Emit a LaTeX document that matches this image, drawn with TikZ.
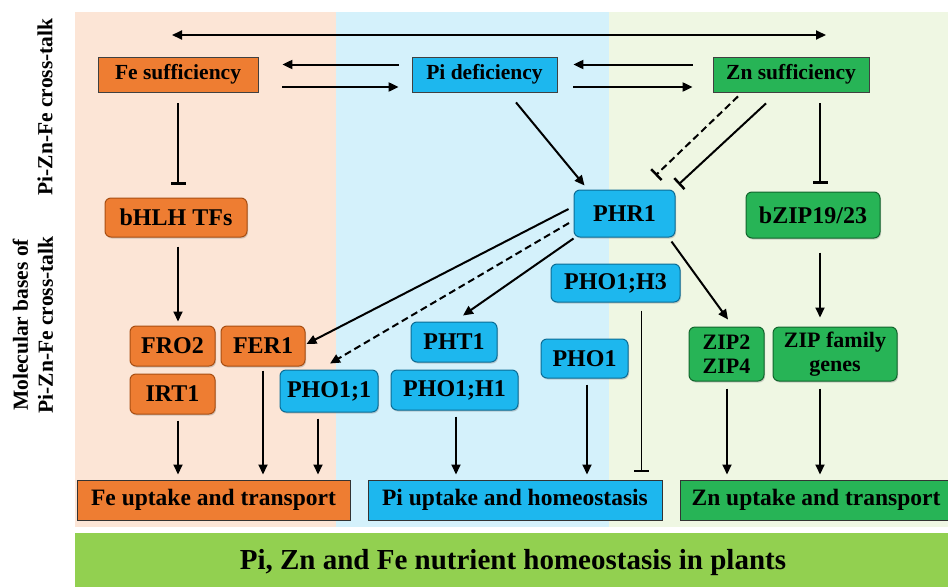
\documentclass[tikz,border=0pt]{standalone}
\usepackage{fontspec}
\setmainfont{Liberation Serif}
\usetikzlibrary{arrows.meta}
\usetikzlibrary{shadows}
\definecolor{fepanel}{HTML}{FCE5D6}
\definecolor{pipanel}{HTML}{D4F1FB}
\definecolor{znpanel}{HTML}{EFF7E3}
\definecolor{feorange}{HTML}{EE7D32}
\definecolor{fedark}{HTML}{A84E12}
\definecolor{piblue}{HTML}{1DB7EE}
\definecolor{pidark}{HTML}{0B6C95}
\definecolor{zngreen}{HTML}{27B456}
\definecolor{zndark}{HTML}{11652C}
\definecolor{plantgreen}{HTML}{92D050}
\newcommand{\boxfont}{\bfseries\fontsize{24}{24}\selectfont}
\tikzstyle{status}=[draw=black!75, line width=0.8pt, inner sep=0, minimum height=35pt,
                    font=\bfseries\fontsize{21.5}{22}\selectfont]
\tikzstyle{gene}=[rounded corners=6pt, line width=1pt, inner sep=0, minimum height=40pt, align=center,
                  font=\boxfont, drop shadow={shadow xshift=1pt, shadow yshift=-1.5pt, opacity=0.35}]
\tikzstyle{fegene}=[gene, fill=feorange, draw=fedark]
\tikzstyle{pigene}=[gene, fill=piblue, draw=pidark]
\tikzstyle{zngene}=[gene, fill=zngreen, draw=zndark, font=\bfseries\fontsize{22}{24}\selectfont]
\tikzstyle{outcome}=[draw=black!80, line width=1pt, inner sep=0, minimum height=40pt,
                     font=\bfseries\fontsize{23.5}{24}\selectfont]
\tikzstyle{sidelabel}=[rotate=90, align=center, font=\bfseries\fontsize{21.5}{25}\selectfont]
\tikzstyle{arr}=[line width=2pt, -{Triangle[length=10pt, width=9pt]}]
\tikzstyle{block}=[line width=2pt, -{Bar[width=15pt, line width=2.5pt]}]
\tikzstyle{thinblock}=[line width=1pt, -{Bar[width=15pt, line width=1.2pt]}]
\begin{document}
\begin{tikzpicture}[x=1pt, y=-1pt]
        \useasboundingbox (0, 0) rectangle (948, 587);
        % panels
        \fill[fepanel] (75, 12) rectangle (336, 527);
        \fill[pipanel] (336, 12) rectangle (609, 527);
        \fill[znpanel] (609, 12) rectangle (948, 527);
        \fill[plantgreen] (75, 533) rectangle (948, 587);
        \node[font=\bfseries\fontsize{29}{30}\selectfont] (title) at (513, 563) {Pi, Zn and Fe nutrient homeostasis in plants};
        \node[sidelabel] (crosslabel) at (45, 107) {Pi-Zn-Fe cross-talk};
        \node[sidelabel] (baselabel) at (33, 325) {Molecular bases of\\Pi-Zn-Fe cross-talk};
        % status boxes
        \node[status, fill=feorange, minimum width=160pt] (fesuf) at (178, 74.5) {Fe sufficiency};
        \node[status, fill=piblue, minimum width=145pt] (pidef) at (484.5, 74.5) {Pi deficiency};
        \node[status, fill=zngreen, minimum width=156pt] (znsuf) at (791, 74.5) {Zn sufficiency};
        % genes
        \node[fegene, minimum width=142pt, minimum height=39pt] (bhlh) at (176, 217.5) {bHLH TFs};
        \node[fegene, minimum width=85pt] (fro2) at (172.5, 346) {FRO2};
        \node[fegene, minimum width=84pt] (fer1) at (263, 346) {FER1};
        \node[fegene, minimum width=85pt] (irt1) at (172.5, 394) {IRT1};
        \node[pigene, minimum width=98pt, minimum height=42pt] (pho11) at (329, 391) {PHO1;1};
        \node[pigene, minimum width=101pt, minimum height=47pt] (phr1) at (624.5, 213.5) {PHR1};
        \node[pigene, minimum width=129pt, minimum height=38pt] (pho1h3) at (615.5, 283) {PHO1;H3};
        \node[pigene, minimum width=86pt] (pht1) at (454, 342) {PHT1};
        \node[pigene, minimum width=127pt] (pho1h1) at (454.5, 390) {PHO1;H1};
        \node[pigene, minimum width=87pt, minimum height=39pt] (pho1) at (584.5, 358.5) {PHO1};
        \node[zngene, minimum width=134pt, minimum height=46pt, font=\boxfont] (bzip) at (813, 215) {bZIP19/23};
        \node[zngene, minimum width=75pt, minimum height=54pt] (zip24) at (726.5, 354) {ZIP2\\ZIP4};
        \node[zngene, minimum width=124pt, minimum height=54pt] (zipfam) at (835, 354) {ZIP family\\genes};
        % outcomes
        \node[outcome, fill=feorange, minimum width=273pt] (feup) at (213.5, 500) {Fe uptake and transport};
        \node[outcome, fill=piblue, minimum width=294pt] (piup) at (515, 500) {Pi uptake and homeostasis};
        \node[outcome, fill=zngreen, minimum width=272pt] (znup) at (816, 500) {Zn uptake and transport};
        % cross-talk
        \coordinate (topL) at (172, 35);
        \coordinate (topR) at (826, 35);
        \draw[line width=2pt, {Triangle[length=10pt, width=9pt]}-{Triangle[length=10pt, width=9pt]}] (topL) -- (topR);
        \draw[arr, shorten <=13pt, shorten >=24pt] ([yshift=10pt]pidef.west) -- ([yshift=10pt]fesuf.east);
        \draw[arr, shorten <=24pt, shorten >=13pt] ([yshift=-12.5pt]fesuf.east) -- ([yshift=-12.5pt]pidef.west);
        \draw[arr, shorten <=20pt, shorten >=16pt] ([yshift=10pt]znsuf.west) -- ([yshift=10pt]pidef.east);
        \draw[arr, shorten <=16pt, shorten >=20pt] ([yshift=-12.5pt]pidef.east) -- ([yshift=-12.5pt]znsuf.west);
        \draw[arr] ([xshift=31.5pt, yshift=-10pt]pidef.south) -- ([xshift=11pt, yshift=4pt]phr1.north west);
        \draw[block] ([xshift=-25pt, yshift=-11pt]znsuf.south) -- ([xshift=3pt, yshift=5pt]phr1.north east);
        \draw[block, dashed, dash pattern=on 7pt off 4pt] ([xshift=-53pt, yshift=-4pt]znsuf.south) -- ([xshift=-20pt, yshift=14pt]phr1.north east);
        % Fe branch
        \draw[block, shorten <=11pt, shorten >=13pt] (fesuf.south) -- (fesuf.south |- bhlh.north);
        \draw[arr, shorten <=9pt, shorten >=4pt] ([xshift=2pt]bhlh.south) -- ([xshift=2pt]bhlh.south |- fro2.north);
        \draw[arr, shorten <=6pt, shorten >=5pt] ([xshift=5.5pt]irt1.south) -- ([xshift=5.5pt]irt1.south |- feup.north);
        \draw[arr, shorten <=4pt, shorten >=5pt] (fer1.south) -- (fer1.south |- feup.north);
        \draw[arr, shorten <=6pt, shorten >=5pt] ([xshift=-11pt]pho11.south) -- ([xshift=-11pt]pho11.south |- feup.north);
        % PHR1 targets
        \draw[arr] ([xshift=-5pt, yshift=4.5pt]phr1.west) -- ([xshift=1pt, yshift=2pt]fer1.east);
        \draw[arr, dashed, dash pattern=on 7pt off 4pt] ([xshift=-4.5pt, yshift=-9.5pt]phr1.west) -- ([xshift=1pt, yshift=6pt]pho11.north);
        \draw[arr] ([yshift=-1pt]phr1.south west) -- ([xshift=9pt, yshift=6pt]pht1.north);
        \draw[arr] ([xshift=-4pt, yshift=-4pt]phr1.south east) -- ([xshift=1.5pt, yshift=7pt]zip24.north);
        % Pi branch
        \draw[arr, shorten <=6pt, shorten >=5pt] ([xshift=1.5pt]pho1h1.south) -- ([xshift=1.5pt]pho1h1.south |- piup.north);
        \draw[arr, shorten <=6pt, shorten >=5pt] ([xshift=2.5pt]pho1.south) -- ([xshift=2.5pt]pho1.south |- piup.north);
        \draw[thinblock, shorten <=8pt, shorten >=8pt] ([xshift=25.5pt]pho1h3.south) -- ([xshift=25.5pt]pho1h3.south |- piup.north);
        % Zn branch
        \draw[block, shorten <=11pt, shorten >=8pt] ([xshift=29pt]znsuf.south) -- ([xshift=29pt]znsuf.south |- bzip.north);
        \draw[arr, shorten <=14pt, shorten >=9pt] ([xshift=7pt]bzip.south) -- ([xshift=7pt]bzip.south |- zipfam.north);
        \draw[arr, shorten <=7pt, shorten >=5pt] ([xshift=0.5pt]zip24.south) -- ([xshift=0.5pt]zip24.south |- znup.north);
        \draw[arr, shorten <=7pt, shorten >=5pt] ([xshift=-15pt]zipfam.south) -- ([xshift=-15pt]zipfam.south |- znup.north);
    \end{tikzpicture}
\end{document}
